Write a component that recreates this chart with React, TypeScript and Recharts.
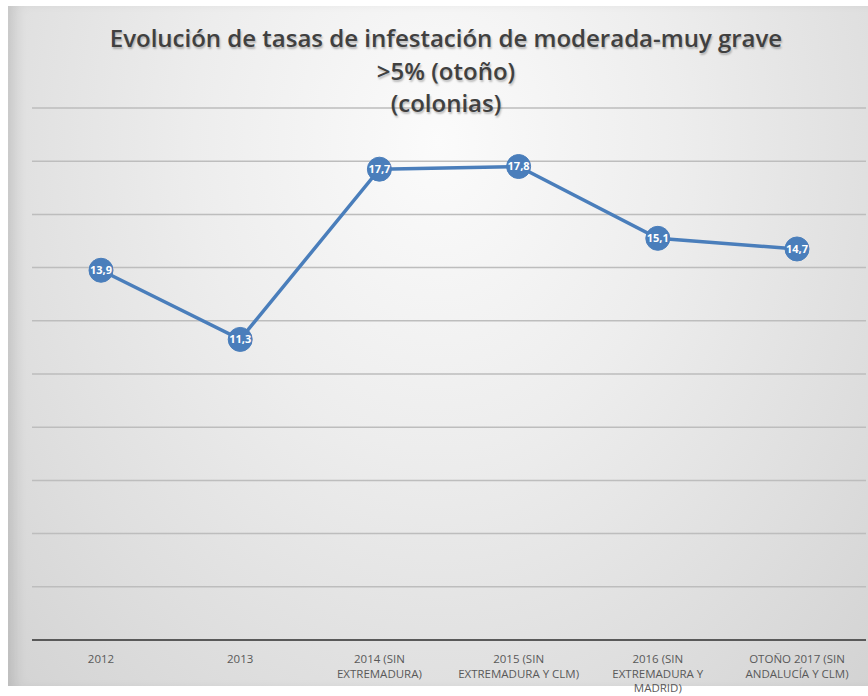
import React from "react";
import {
  LineChart,
  Line,
  XAxis,
  YAxis,
  CartesianGrid,
  LabelList,
} from "recharts";

const categories = [
  "2012",
  "2013",
  "2014 (SIN EXTREMADURA)",
  "2015 (SIN EXTREMADURA Y CLM)",
  "2016 (SIN EXTREMADURA Y MADRID)",
  "OTOÑO 2017 (SIN ANDALUCÍA Y CLM)",
];

const tickLines: string[][] = [
  ["2012"],
  ["2013"],
  ["2014 (SIN", "EXTREMADURA)"],
  ["2015 (SIN", "EXTREMADURA Y CLM)"],
  ["2016 (SIN", "EXTREMADURA Y", "MADRID)"],
  ["OTOÑO 2017 (SIN", "ANDALUCÍA Y CLM)"],
];

const rates = [13.9, 11.3, 17.7, 17.8, 15.1, 14.7];

const yTicks = [0, 2, 4, 6, 8, 10, 12, 14, 16, 18, 20];

const titleLines = [
  "Evolución de tasas de infestación de moderada-muy grave",
  ">5% (otoño)",
  "(colonias)",
];

const data = categories.map((name, i) => ({ name, value: rates[i] }));

const BLUE = "#4a7ebb";
const FONT = "'Open Sans', sans-serif";

function CategoryTick(props: any) {
  const { x, y, index } = props;
  const lines = tickLines[index] || [];
  return (
    <g transform={`translate(${x},${y})`}>
      {lines.map((l, i) => (
        <text
          key={i}
          x={0}
          y={15 + i * 14.5}
          textAnchor="middle"
          fill="#595959"
          fontSize={11.5}
          fontFamily={FONT}
        >
          {l}
        </text>
      ))}
    </g>
  );
}

export default function App() {
  return (
    <div
      style={{
        position: "absolute",
        left: 0,
        top: 0,
        width: 868,
        height: 696,
        background: "#ffffff",
        overflow: "hidden",
      }}
    >
      <div
        style={{
          position: "absolute",
          left: 8,
          top: 6,
          width: 860,
          height: 680,
          background:
            "radial-gradient(ellipse at 50% 20%, #fbfbfb 0%, #ededed 40%, #dedede 75%, #d3d3d3 100%)",
          boxShadow: "inset 12px 0 14px -6px rgba(0,0,0,0.12)",
        }}
      />
      <div style={{ position: "absolute", left: 0, top: 0 }}>
        <LineChart
          width={868}
          height={696}
          data={data}
          margin={{ top: 108, right: 2, left: 32, bottom: 0 }}
        >
          <CartesianGrid
            horizontal={true}
            vertical={false}
            stroke="#bdbdbd"
            strokeWidth={1.5}
          />
          <XAxis
            dataKey="name"
            interval={0}
            height={56}
            padding={{ left: 69, right: 69 }}
            tickLine={false}
            axisLine={{ stroke: "#595959", strokeWidth: 2 }}
            tick={<CategoryTick />}
          />
          <YAxis hide domain={[0, 20]} ticks={yTicks} />
          <Line
            type="linear"
            dataKey="value"
            stroke={BLUE}
            strokeWidth={3.5}
            dot={{ r: 12, fill: BLUE, stroke: BLUE, strokeWidth: 1 }}
            isAnimationActive={false}
          >
            <LabelList
              dataKey="value"
              position="center"
              fill="#ffffff"
              fontSize={11}
              fontWeight="bold"
              fontFamily={FONT}
              formatter={(v: any) => String(v).replace(".", ",")}
            />
          </Line>
        </LineChart>
      </div>
      <svg
        width={868}
        height={130}
        style={{ position: "absolute", left: 0, top: 0, pointerEvents: "none" }}
      >
        {titleLines.map((t, i) => (
          <text
            key={i}
            x={446}
            y={47 + i * 32.5}
            textAnchor="middle"
            fontFamily={FONT}
            fontWeight={600}
            fontSize={24}
            fill="#404040"
            style={{ textShadow: "1px 2px 2px rgba(0,0,0,0.25)" }}
          >
            {t}
          </text>
        ))}
      </svg>
    </div>
  );
}
